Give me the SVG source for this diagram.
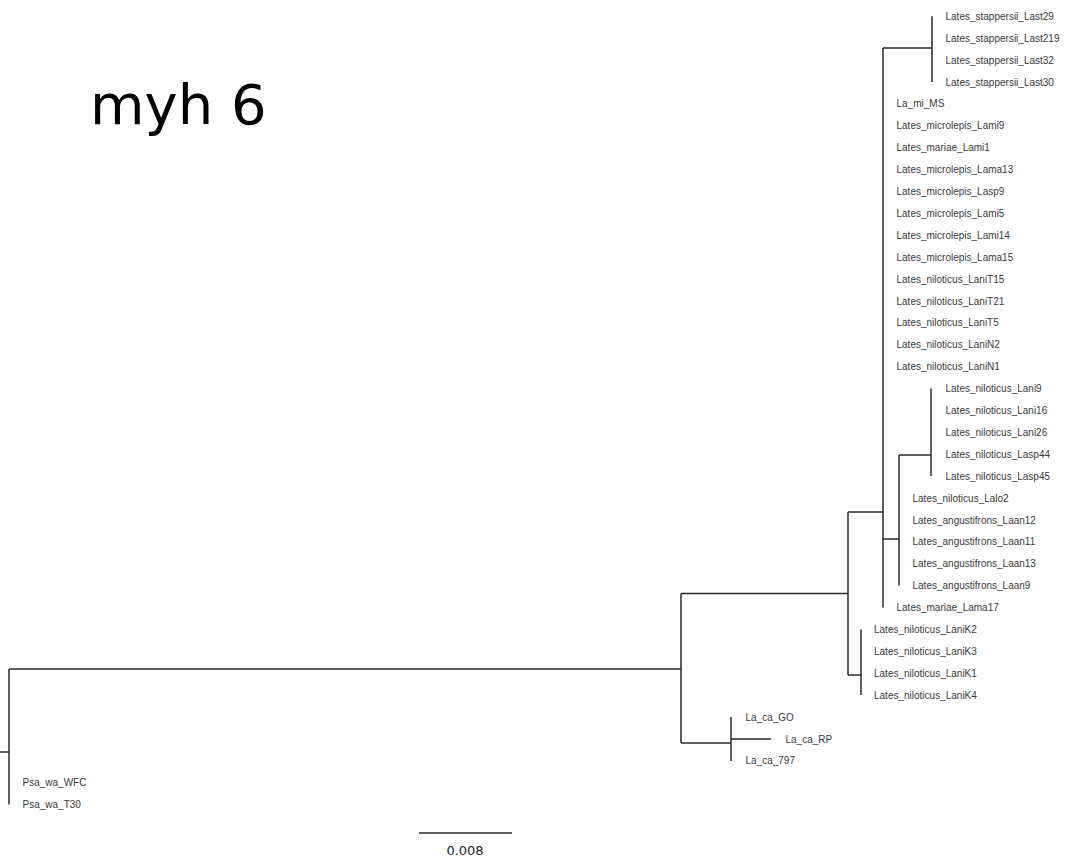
<svg xmlns="http://www.w3.org/2000/svg" width="1068" height="858" viewBox="0 0 1068 858">
<style>
.e{fill:none;stroke:#2a2a2a;stroke-width:1.5}
.t{font-family:"Liberation Sans",Arial,sans-serif;font-size:10px;fill:#3a3a3a}
.title{font-family:"DejaVu Sans",sans-serif;font-size:56px;fill:#000}
.sc{font-family:"DejaVu Sans",sans-serif;font-size:13px;fill:#222}
</style>
<rect width="1068" height="858" fill="#fff"/>
<text class="title" x="90" y="124">myh 6</text>
<g id="connectors">
<path class="e" d="M0,752H9M9,669V804.6M9,669H681M681,593.5V743M681,593.5H848M681,743H731"/>
<path class="e" d="M731,717V761M731,739H771"/>
<path class="e" d="M848,512V675M848,512H883M848,675H861M861,629.4V695.1"/>
<path class="e" d="M883,48V607.5M883,48H932M932,16.2V81.9"/>
<path class="e" d="M883,539H899M899,455V585.6M899,455H931M931,388.5V476.1"/>
</g>
<g id="n_Last29"><text class="t" x="945.5" y="19.8">Lates_stappersii_Last29</text></g>
<g id="n_Last219"><text class="t" x="945.5" y="41.7">Lates_stappersii_Last219</text></g>
<g id="n_Last32"><text class="t" x="945.5" y="63.6">Lates_stappersii_Last32</text></g>
<g id="n_Last30"><text class="t" x="945.5" y="85.5">Lates_stappersii_Last30</text></g>
<g id="n_La_mi_MS"><text class="t" x="896.5" y="107.4">La_mi_MS</text></g>
<g id="n_Lami9"><text class="t" x="896.5" y="129.3">Lates_microlepis_Lami9</text></g>
<g id="n_Lami1"><text class="t" x="896.5" y="151.2">Lates_mariae_Lami1</text></g>
<g id="n_Lama13"><text class="t" x="896.5" y="173.1">Lates_microlepis_Lama13</text></g>
<g id="n_Lasp9"><text class="t" x="896.5" y="195.0">Lates_microlepis_Lasp9</text></g>
<g id="n_Lami5"><text class="t" x="896.5" y="216.9">Lates_microlepis_Lami5</text></g>
<g id="n_Lami14"><text class="t" x="896.5" y="238.8">Lates_microlepis_Lami14</text></g>
<g id="n_Lama15"><text class="t" x="896.5" y="260.7">Lates_microlepis_Lama15</text></g>
<g id="n_LaniT15"><text class="t" x="896.5" y="282.6">Lates_niloticus_LaniT15</text></g>
<g id="n_LaniT21"><text class="t" x="896.5" y="304.5">Lates_niloticus_LaniT21</text></g>
<g id="n_LaniT5"><text class="t" x="896.5" y="326.4">Lates_niloticus_LaniT5</text></g>
<g id="n_LaniN2"><text class="t" x="896.5" y="348.3">Lates_niloticus_LaniN2</text></g>
<g id="n_LaniN1"><text class="t" x="896.5" y="370.2">Lates_niloticus_LaniN1</text></g>
<g id="n_Lani9"><text class="t" x="945.5" y="392.1">Lates_niloticus_Lani9</text></g>
<g id="n_Lani16"><text class="t" x="945.5" y="414.0">Lates_niloticus_Lani16</text></g>
<g id="n_Lani26"><text class="t" x="945.5" y="435.9">Lates_niloticus_Lani26</text></g>
<g id="n_Lasp44"><text class="t" x="945.5" y="457.8">Lates_niloticus_Lasp44</text></g>
<g id="n_Lasp45"><text class="t" x="945.5" y="479.7">Lates_niloticus_Lasp45</text></g>
<g id="n_Lalo2"><text class="t" x="912.5" y="501.6">Lates_niloticus_Lalo2</text></g>
<g id="n_Laan12"><text class="t" x="912.5" y="523.5">Lates_angustifrons_Laan12</text></g>
<g id="n_Laan11"><text class="t" x="912.5" y="545.4">Lates_angustifrons_Laan11</text></g>
<g id="n_Laan13"><text class="t" x="912.5" y="567.3">Lates_angustifrons_Laan13</text></g>
<g id="n_Laan9"><text class="t" x="912.5" y="589.2">Lates_angustifrons_Laan9</text></g>
<g id="n_Lama17"><text class="t" x="896.5" y="611.1">Lates_mariae_Lama17</text></g>
<g id="n_LaniK2"><text class="t" x="874" y="633.0">Lates_niloticus_LaniK2</text></g>
<g id="n_LaniK3"><text class="t" x="874" y="654.9">Lates_niloticus_LaniK3</text></g>
<g id="n_LaniK1"><text class="t" x="874" y="676.8">Lates_niloticus_LaniK1</text></g>
<g id="n_LaniK4"><text class="t" x="874" y="698.7">Lates_niloticus_LaniK4</text></g>
<g id="n_La_ca_GO"><text class="t" x="745.5" y="720.6">La_ca_GO</text></g>
<g id="n_La_ca_RP"><text class="t" x="785.5" y="742.5">La_ca_RP</text></g>
<g id="n_La_ca_797"><text class="t" x="745.5" y="764.4">La_ca_797</text></g>
<g id="n_Psa_wa_WFC"><text class="t" x="22.5" y="786.3">Psa_wa_WFC</text></g>
<g id="n_Psa_wa_T30"><text class="t" x="22.5" y="808.2">Psa_wa_T30</text></g>
<g id="scale">
<path class="e" d="M419,833H512"/>
<text class="sc" x="465" y="855" text-anchor="middle">0.008</text>
</g>
</svg>
